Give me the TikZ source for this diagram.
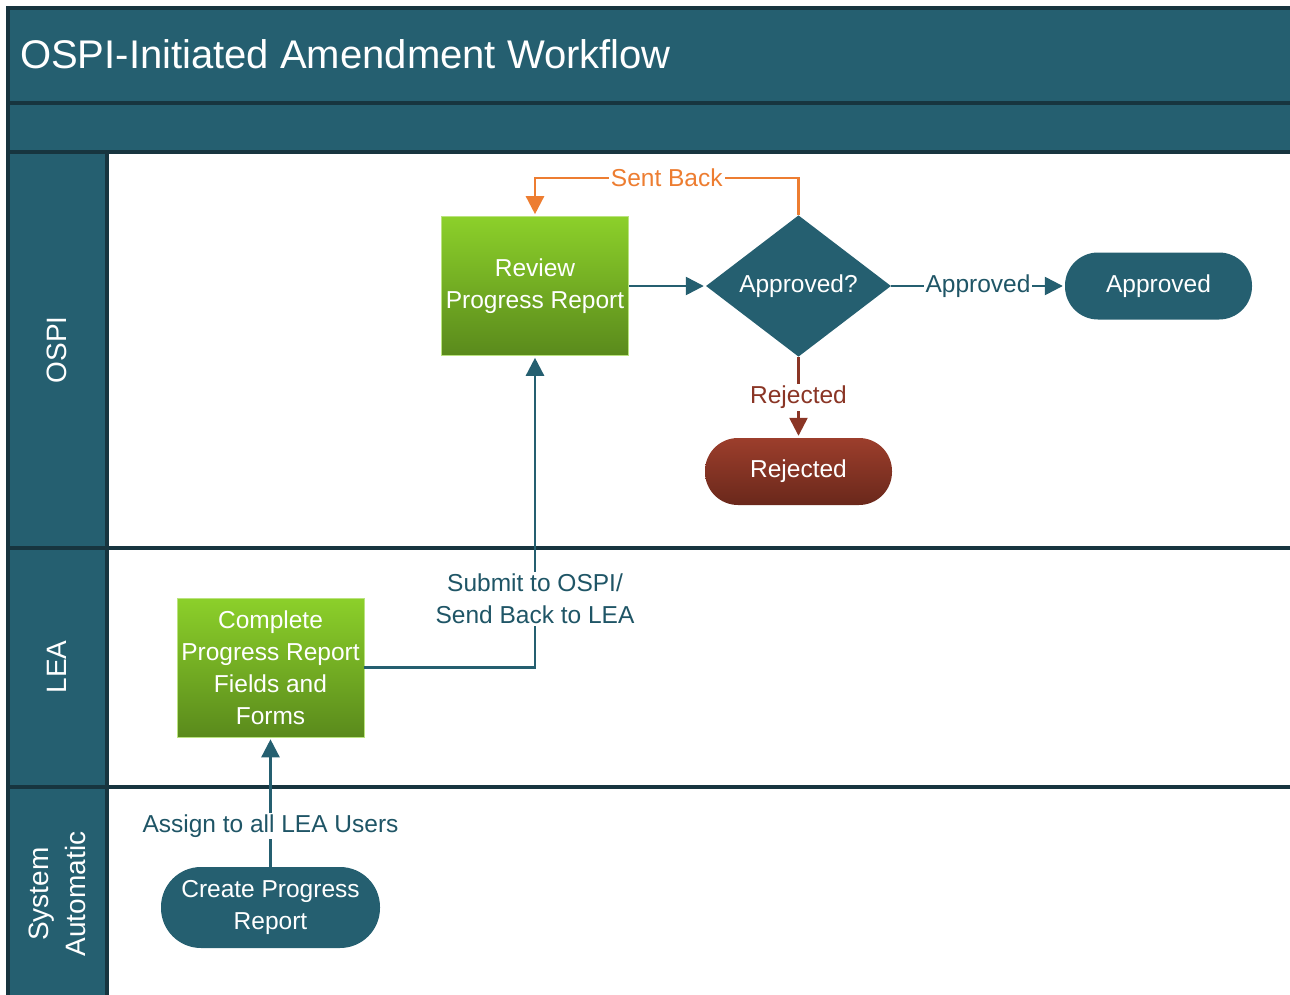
\documentclass[tikz,border=0pt]{standalone}
\usepackage{fontspec}
\setmainfont{Liberation Sans}
\usetikzlibrary{shapes.geometric,arrows.meta,calc}
\definecolor{teal1}{HTML}{255F70}
\definecolor{framec}{HTML}{17353F}
\definecolor{greenT}{HTML}{8CD02A}
\definecolor{greenB}{HTML}{5A8A1C}
\definecolor{redT}{HTML}{9C3E2C}
\definecolor{redB}{HTML}{6A281B}
\definecolor{orng}{HTML}{ED7D31}
\definecolor{rejln}{HTML}{8A3525}
\definecolor{lbltxt}{HTML}{1F5566}
\begin{document}
\begin{tikzpicture}[x=1bp,y=-1bp,
  bodyfont/.style={font=\fontsize{24.5bp}{32bp}\selectfont},
  lanefont/.style={font=\fontsize{28bp}{37bp}\selectfont, text=white, rotate=90, align=center},
  procbox/.style={bodyfont, text=white, align=center, minimum width=187bp, minimum height=139bp, inner sep=0pt, top color=greenT, bottom color=greenB, draw=greenT!60!white, line width=0.6bp},
  termbox/.style={bodyfont, text=white, align=center, fill=teal1, rounded corners=33bp, minimum width=187bp, minimum height=67bp, inner sep=0pt},
  rejbox/.style={termbox, fill=none, top color=redT, bottom color=redB},
  startbox/.style={termbox, rounded corners=40bp, minimum width=219bp, minimum height=81bp},
  decision/.style={bodyfont, text=white, shape=diamond, fill=teal1, minimum width=185bp, minimum height=139bp, inner sep=0pt},
  conn/.style={draw=teal1, line width=2.5bp, shorten >=2bp, -{Triangle[length=18bp,width=18bp]}},
  lbl/.style={bodyfont, fill=white, text=lbltxt, inner sep=2bp, align=center},
  frameline/.style={draw=framec, line width=3.5bp}
]
\useasboundingbox (0,0) rectangle (1290,995);
\clip (0,0) rectangle (1290,995);
% frame and lanes
\fill[teal1] (8,8) rectangle (1300,152);
\fill[teal1] (8,152) rectangle (107,1005);
\draw[frameline] (8,8) rectangle (1300,1005);
\draw[frameline] (8,103) -- (1300,103);
\draw[frameline] (8,152) -- (1300,152);
\draw[frameline] (8,548) -- (1300,548);
\draw[frameline] (8,787) -- (1300,787);
\draw[frameline] (107,152) -- (107,1005);
\node (title) [anchor=base west, text=white, font=\fontsize{40bp}{48bp}\selectfont, inner sep=0pt] at (20,68) {OSPI-Initiated Amendment Workflow};
\node (laneospi) [lanefont] at (57,350) {OSPI};
\node (lanelea) [lanefont] at (57,667) {LEA};
\node (lanesys) [lanefont] at (57,894) {System\\Automatic};
% nodes
\node (r) [procbox] at (535,286) {Review\\Progress Report};
\node (d) [decision] at (798.5,286) {Approved?};
\node (ap) [termbox] at (1158.5,286) {Approved};
\node (rj) [rejbox] at (798.5,471.5) {Rejected};
\node (c) [procbox] at (270.5,667.5) {Complete\\Progress Report\\Fields and\\Forms};
\node (cr) [startbox] at (270.5,907.5) {Create Progress\\Report};
\coordinate (sb) at (535,178);
% connectors
\draw[conn] (r.east) -- (d.west);
\draw[conn] (d.east) -- node[lbl]{Approved} (ap.west);
\draw[conn, draw=rejln] (d.south) -- node[lbl, text=rejln]{Rejected} (rj.north);
\draw[conn, draw=orng] (d.north) |- node[pos=0.75, lbl, text=orng]{Sent Back} (sb) -- (r.north);
\draw[conn] (c.east) -| node[pos=0.61, lbl]{Submit to OSPI/\\Send Back to LEA} (r.south);
\draw[conn] (cr.north) -- node[pos=0.315, lbl]{Assign to all LEA Users} (c.south);
\end{tikzpicture}
\end{document}
